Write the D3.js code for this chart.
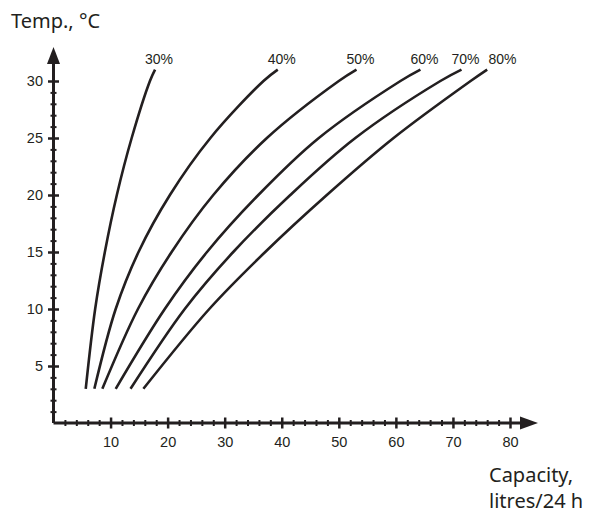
<!DOCTYPE html>
<html><head><meta charset="utf-8">
<script src="https://cdn.jsdelivr.net/npm/d3@7"></script>
<style>body{margin:0;background:#fff}svg{display:block}</style>
</head><body>
<svg id="c" width="596" height="513"></svg>
<script>
// Data
const temps = [3, 10, 15, 20, 25, 30, 31];
const humidityLabels = ["30%", "40%", "50%", "60%", "70%", "80%"];
const cap30 = [5.65, 7.3, 9.0, 11.1, 13.7, 16.9, 17.8];
const cap40 = [7.16, 10.9, 14.9, 20.4, 27.5, 36.8, 39.3];
const cap50 = [8.56, 14.8, 20.7, 28.0, 37.4, 50.0, 53.1];
const cap60 = [10.9, 19.5, 26.9, 35.9, 46.5, 60.8, 64.3];
const cap70 = [13.5, 23.0, 31.5, 41.5, 52.9, 67.8, 71.5];
const cap80 = [15.75, 27.3, 37.1, 47.9, 59.6, 73.1, 76.0];
const xMajorTicks = [10, 20, 30, 40, 50, 60, 70, 80];
const yMajorTicks = [5, 10, 15, 20, 25, 30];
const xTitle = ["Capacity,", "litres/24 h"];
const yTitle = "Temp., °C";

const series = [cap30, cap40, cap50, cap60, cap70, cap80];
const svg = d3.select("#c");
const x = d3.scaleLinear().domain([0, 80]).range([53.5, 510]);
const y = d3.scaleLinear().domain([0, 30]).range([423, 81]);
const ink = "#231f20";
const numFont = "'Liberation Sans', Arial, sans-serif";
const titleFont = "'Noto Sans', 'Open Sans', sans-serif";

// minor ticks
const xMinor = d3.range(2, 81, 2).filter(v => v % 10 !== 0);
const yMinor = d3.range(1, 31, 1).filter(v => v % 5 !== 0);

const gx = svg.append("g").attr("transform", `translate(0,${y(0)})`);
gx.call(d3.axisBottom(x).tickValues(xMinor).tickSize(3).tickFormat(""));
gx.selectAll(".tick line").attr("y1", -3).attr("y2", 3).attr("stroke", ink).attr("stroke-width", 2);
gx.select(".domain").remove();
const gx2 = svg.append("g").attr("transform", `translate(0,${y(0)})`);
gx2.call(d3.axisBottom(x).tickValues(xMajorTicks).tickSize(5.5).tickPadding(8).tickFormat(d3.format("d")));
gx2.select(".domain").remove();
gx2.selectAll(".tick line").attr("y1", -5.5).attr("y2", 5.5).attr("stroke", ink).attr("stroke-width", 2.5);
gx2.selectAll(".tick text").attr("font-family", numFont).attr("font-size", 14.5).attr("fill", ink);

const gy = svg.append("g").attr("transform", `translate(${x(0)},0)`);
gy.call(d3.axisLeft(y).tickValues(yMinor).tickSize(3).tickFormat(""));
gy.selectAll(".tick line").attr("x1", 3).attr("x2", -3).attr("stroke", ink).attr("stroke-width", 2);
gy.select(".domain").remove();
const gy2 = svg.append("g").attr("transform", `translate(${x(0)},0)`);
gy2.call(d3.axisLeft(y).tickValues(yMajorTicks).tickSize(5.5).tickPadding(5).tickFormat(d3.format("d")));
gy2.select(".domain").remove();
gy2.selectAll(".tick line").attr("x1", 5.5).attr("x2", -5.5).attr("stroke", ink).attr("stroke-width", 2.5);
gy2.selectAll(".tick text").attr("font-family", numFont).attr("font-size", 14.5).attr("fill", ink);

// axis lines with arrows
const x0 = x(0), y0 = y(0);
const xEnd = 538, yEnd = 47;
svg.append("path").attr("d", `M${x0},${y0}H${xEnd - 14}M${x0},${y0}V${yEnd + 14}`)
  .attr("stroke", ink).attr("stroke-width", 3).attr("fill", "none");
svg.append("path").attr("d", `M${xEnd},${y0}L${xEnd - 18},${y0 - 6.5}L${xEnd - 18},${y0 + 6.5}Z`).attr("fill", ink);
svg.append("path").attr("d", `M${x0},${yEnd}L${x0 - 6.5},${yEnd + 17}L${x0 + 6.5},${yEnd + 17}Z`).attr("fill", ink);

// curves
const line = d3.line().x(d => x(d[0])).y(d => y(d[1])).curve(d3.curveCatmullRom.alpha(0.5));
series.forEach(s => {
  svg.append("path").datum(s.map((c, i) => [c, temps[i]]))
    .attr("d", line).attr("fill", "none").attr("stroke", ink).attr("stroke-width", 2.6);
});

// labels with simple collision avoidance
let prev = -Infinity;
series.forEach((s, i) => {
  let lx = Math.max(x(s[s.length - 1]) + 4, prev + 37);
  prev = lx;
  svg.append("text").attr("x", lx).attr("y", 64).attr("text-anchor", "middle")
    .attr("font-family", numFont).attr("font-size", 14).attr("fill", ink).text(humidityLabels[i]);
});

// titles
svg.append("text").attr("x", 11).attr("y", 28).attr("font-family", titleFont).attr("font-size", 20)
  .attr("fill", ink).text(yTitle);
svg.selectAll(".xt").data(xTitle).enter().append("text")
  .attr("x", 489).attr("y", (d, i) => 482 + i * 26).attr("font-family", titleFont).attr("font-size", 20)
  .attr("fill", ink).text(d => d);
</script>
</body></html>
